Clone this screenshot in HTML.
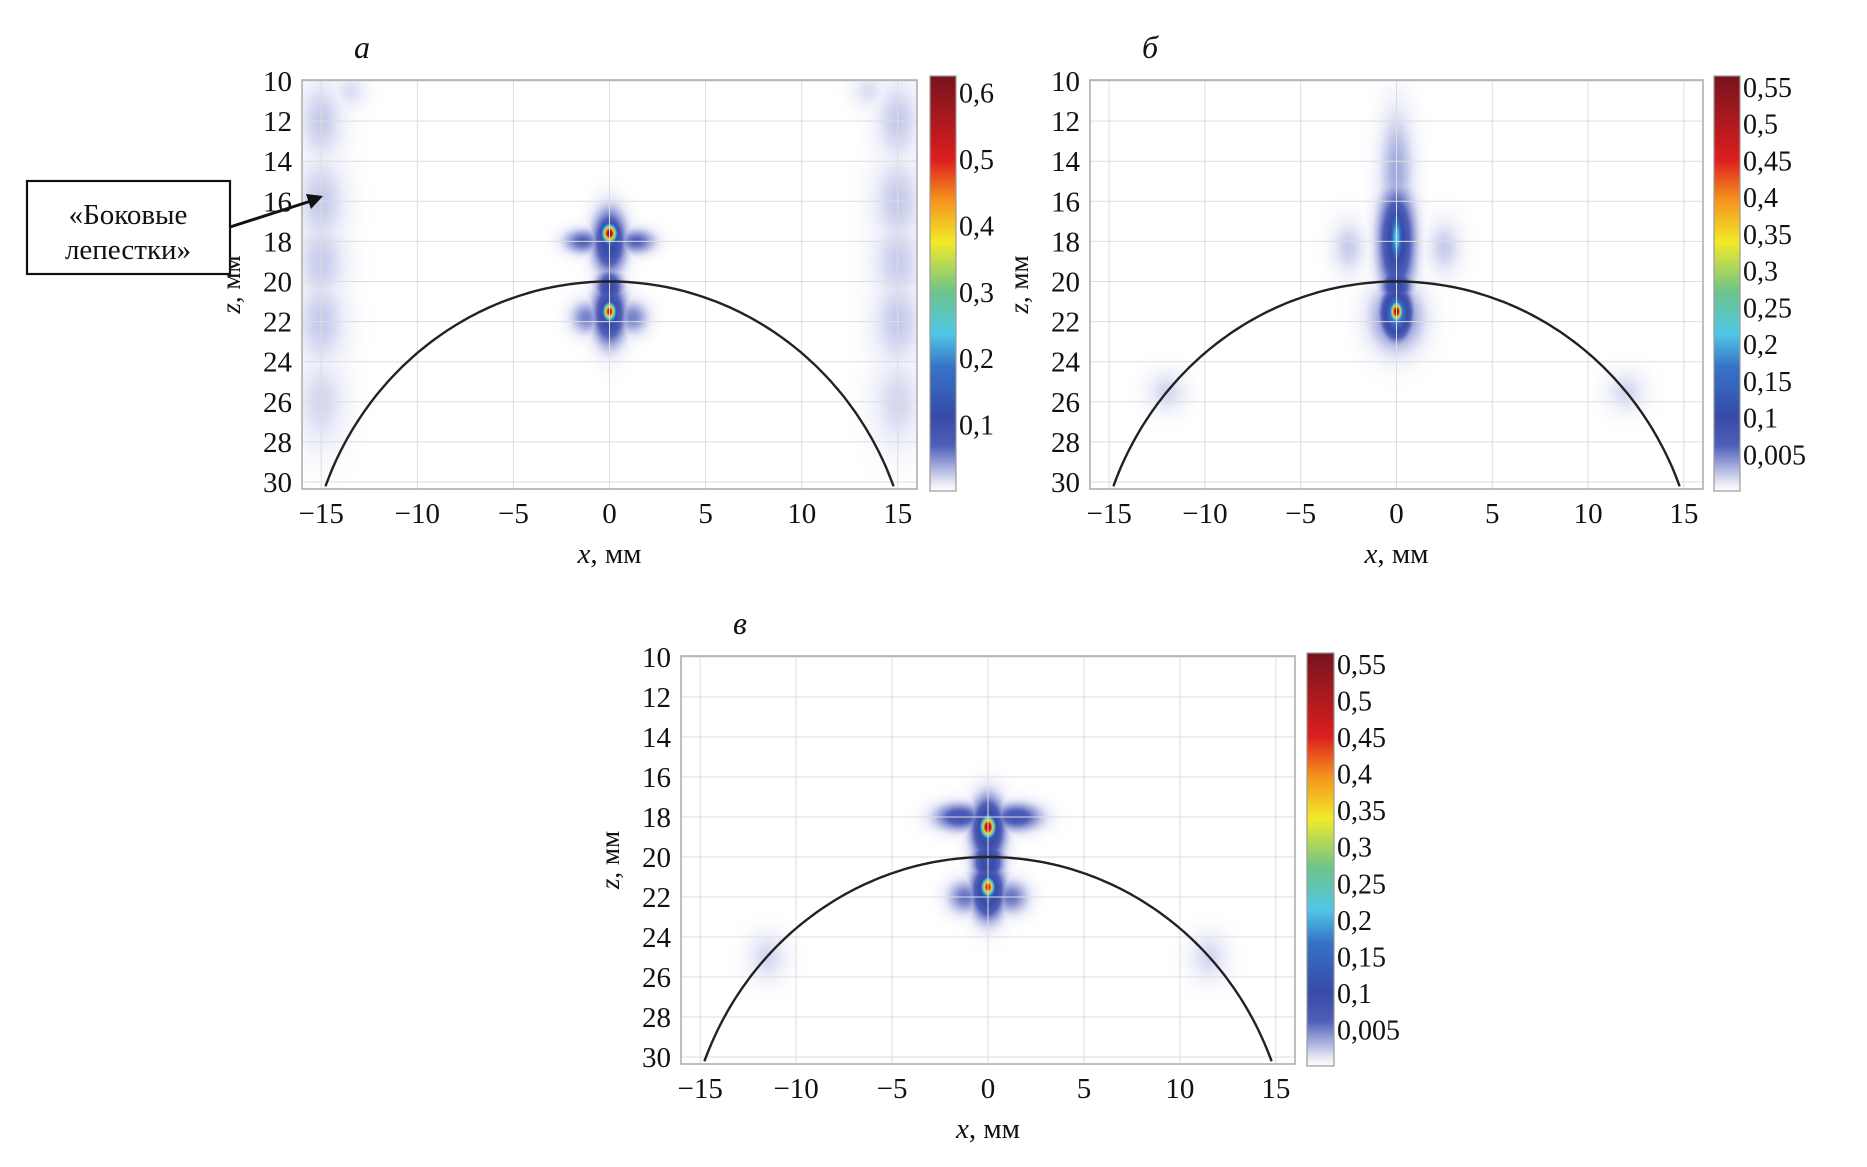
<!DOCTYPE html>
<html><head><meta charset="utf-8">
<style>
html,body{margin:0;padding:0;background:#fff;}
body{width:1867px;height:1167px;position:relative;overflow:hidden;font-family:"Liberation Serif",serif;}
canvas{position:absolute;}
svg{position:absolute;left:0;top:0;}
</style></head><body>
<canvas id="cA"></canvas>
<canvas id="cB"></canvas>
<canvas id="cC"></canvas>
<canvas id="bA"></canvas>
<canvas id="bB"></canvas>
<canvas id="bC"></canvas>
<svg id="ov" width="1867" height="1167"></svg>
<script>
// tick data
const xTicks=[-15,-10,-5,0,5,10,15];
const zTicks=[10,12,14,16,18,20,22,24,26,28,30];
const cbValsA=[0.1,0.2,0.3,0.4,0.5,0.6];
const cbLabelsA=["0,1","0,2","0,3","0,4","0,5","0,6"];
const cbValsBC=[0.05,0.1,0.15,0.2,0.25,0.3,0.35,0.4,0.45,0.5,0.55];
const cbLabelsBC=["0,005","0,1","0,15","0,2","0,25","0,3","0,35","0,4","0,45","0,5","0,55"];
// blobs: [x, z, sigmaX, sigmaZ, amplitude]
const blobsA=[[0,17.6,0.25,0.3,0.6],[0,18,0.55,1.0,0.13],[-1.4,18,0.65,0.4,0.07],[1.4,18,0.65,0.4,0.07],[0,20.3,0.45,0.6,0.11],[0,21.5,0.22,0.3,0.55],[0,21.6,0.55,1.0,0.13],[-1.2,21.8,0.55,0.55,0.055],[1.2,21.8,0.55,0.55,0.055],
 [-15,12,0.8,1.4,0.025],[-15,16,0.9,1.6,0.025],[-15,19,0.9,1.6,0.024],[-15,22,0.9,1.6,0.025],[-15,26,0.9,1.6,0.02],[15,12,0.8,1.4,0.025],[15,16,0.9,1.6,0.025],[15,19,0.9,1.6,0.024],[15,22,0.9,1.6,0.025],[15,26,0.9,1.6,0.02],[-13.5,10.5,0.6,0.6,0.017],[13.5,10.5,0.6,0.6,0.017]];
const blobsB=[[0,17.8,0.25,1.0,0.22],[0,18,0.6,1.7,0.12],[0,14.5,0.6,2.0,0.035],[0,21.5,0.2,0.3,0.55],[0,21.6,0.5,0.8,0.2],[0,21.8,0.9,1.1,0.06],[0,20.2,0.5,0.6,0.11],[-2.5,18.3,0.6,0.9,0.022],[2.5,18.3,0.6,0.9,0.022],[-12,25.5,0.7,0.7,0.018],[12,25.5,0.7,0.7,0.018]];
const blobsC=[[0,18.5,0.25,0.35,0.55],[0,18,0.15,0.15,0.2],[0,18.6,0.55,1.0,0.14],[-1.5,18,0.85,0.45,0.08],[1.5,18,0.85,0.45,0.08],[0,20.2,0.5,0.7,0.12],[0,21.5,0.22,0.3,0.5],[0,21.7,0.55,0.9,0.14],[-1.2,22,0.6,0.55,0.055],[1.2,22,0.6,0.55,0.055],[-11.5,25,0.7,0.8,0.018],[11.5,25,0.7,0.8,0.018]];
const circle={cx:0,cz:35.8,r:15.8};

const plots=[
 {id:'A',L:302,R:917,T:80,B:489,cbL:930,cbR:956,cbT:76,cbB:491,vmax:0.625,blobs:blobsA,vals:cbValsA,labs:cbLabelsA,title:'а'},
 {id:'B',L:1090,R:1703,T:80,B:489,cbL:1714,cbR:1740,cbT:76,cbB:491,vmax:0.565,blobs:blobsB,vals:cbValsBC,labs:cbLabelsBC,title:'б'},
 {id:'C',L:681,R:1295,T:656,B:1064,cbL:1307,cbR:1334,cbT:653,cbB:1066,vmax:0.565,blobs:blobsC,vals:cbValsBC,labs:cbLabelsBC,title:'в'}];
const X0=-16,X1=16,Z0=9.95,Z1=30.35;
const stops=[[0,[255,255,255]],[0.02,[232,234,248]],[0.06,[165,172,222]],[0.11,[80,95,185]],[0.18,[55,75,168]],[0.3,[55,115,200]],[0.38,[80,200,230]],[0.48,[110,195,140]],[0.6,[240,235,40]],[0.7,[245,150,30]],[0.8,[220,30,30]],[1,[120,20,30]]];
function cmap(t){t=Math.max(0,Math.min(1,t));for(let i=1;i<stops.length;i++){if(t<=stops[i][0]){const a=stops[i-1],b=stops[i];const f=(t-a[0])/(b[0]-a[0]);return a[1].map((v,k)=>Math.round(v+(b[1][k]-v)*f));}}return stops[stops.length-1][1];}
const NS='http://www.w3.org/2000/svg';
const ov=document.getElementById('ov');
function el(tag,attrs,text){const e=document.createElementNS(NS,tag);for(const k in attrs)e.setAttribute(k,attrs[k]);if(text!==undefined)e.textContent=text;ov.appendChild(e);return e;}
plots.forEach(p=>{
 const W=p.R-p.L,H=p.B-p.T;
 const sx=x=>p.L+(x-X0)/(X1-X0)*W, sz=z=>p.T+(z-Z0)/(Z1-Z0)*H;
 const c=document.getElementById('c'+p.id);c.width=W;c.height=H;c.style.left=p.L+'px';c.style.top=p.T+'px';
 const ctx=c.getContext('2d');const img=ctx.createImageData(W,H);
 for(let j=0;j<H;j++){const z=Z0+(j+0.5)/H*(Z1-Z0);for(let i=0;i<W;i++){const x=X0+(i+0.5)/W*(X1-X0);let v=0;
  for(const b of p.blobs){const dx=(x-b[0])/b[2],dz=(z-b[1])/b[3];v=Math.max(v,b[4]*Math.exp(-0.5*(dx*dx+dz*dz)));}
  const col=cmap(v/p.vmax);const o=(j*W+i)*4;img.data[o]=col[0];img.data[o+1]=col[1];img.data[o+2]=col[2];img.data[o+3]=255;}}
 ctx.putImageData(img,0,0);
 const cb=document.getElementById('b'+p.id);const cw=p.cbR-p.cbL,ch=p.cbB-p.cbT;cb.width=cw;cb.height=ch;cb.style.left=p.cbL+'px';cb.style.top=p.cbT+'px';
 const bx=cb.getContext('2d');for(let j=0;j<ch;j++){const col=cmap(1-j/ch);bx.fillStyle=`rgb(${col})`;bx.fillRect(0,j,cw,1);}
 xTicks.forEach(t=>{const l=el('line',{x1:sx(t),x2:sx(t),y1:p.T,y2:p.B,stroke:'#ddd','stroke-width':1});
  const tx=el('text',{x:sx(t),y:p.B+34,'font-size':29,'text-anchor':'middle',fill:'#111'},t<0?'\u2212'+(-t):String(t));});
 zTicks.forEach(t=>{const l=el('line',{x1:p.L,x2:p.R,y1:sz(t),y2:sz(t),stroke:'#ddd','stroke-width':1});
  const tx=el('text',{x:p.L-10,y:sz(t)+10,'font-size':29,'text-anchor':'end',fill:'#111'},String(t));});
 let d='';for(let k=0;k<=200;k++){const a=Math.PI*(k/200);const x=circle.cx-circle.r*Math.cos(a);const z=circle.cz-circle.r*Math.sin(a);if(z>Z1)continue;d+=(d?'L':'M')+sx(x).toFixed(1)+','+sz(z).toFixed(1);}
 const arc=el('path',{d:d,fill:'none',stroke:'#222','stroke-width':2.4});
 const fr=el('rect',{x:p.L,y:p.T,width:W,height:H,fill:'none',stroke:'#aaa','stroke-width':1.5});
 const cf=el('rect',{x:p.cbL,y:p.cbT,width:cw,height:ch,fill:'none',stroke:'#999','stroke-width':1.2});
 p.vals.forEach((v,k)=>{const y=p.cbB-v/p.vmax*ch;const tx=el('text',{x:p.cbR+3,y:y+10,'font-size':28,fill:'#111'},p.labs[k]);});
 const xl=el('text',{x:(p.L+p.R)/2,y:p.B+74,'font-size':29,'text-anchor':'middle',fill:'#111'});
 xl.innerHTML='<tspan font-style="italic">x</tspan>, мм';
 const zl=el('text',{x:0,y:0,'font-size':27,'text-anchor':'middle',fill:'#111',transform:`translate(${p.L-62},${(p.T+p.B)/2}) rotate(-90)`});
 zl.innerHTML='<tspan font-style="italic">z</tspan>, мм';
 const ti=el('text',{x:p.L+52,y:p.T-22,'font-size':32,'font-style':'italic',fill:'#111'},p.title);
});
const ab=el('rect',{x:27,y:181,width:203,height:93,fill:'#fff',stroke:'#111','stroke-width':2.2});
const t1=el('text',{x:128,y:224,'font-size':29,'text-anchor':'middle',fill:'#111'},'«Боковые');
const t2=el('text',{x:128,y:259,'font-size':29,'text-anchor':'middle',fill:'#111'},'лепестки»');
const ar=el('line',{x1:230,y1:227,x2:311,y2:201,stroke:'#111','stroke-width':3});
const ah=el('polygon',{points:'323,196 306,194 311,209',fill:'#111'});
</script>
</body></html>
